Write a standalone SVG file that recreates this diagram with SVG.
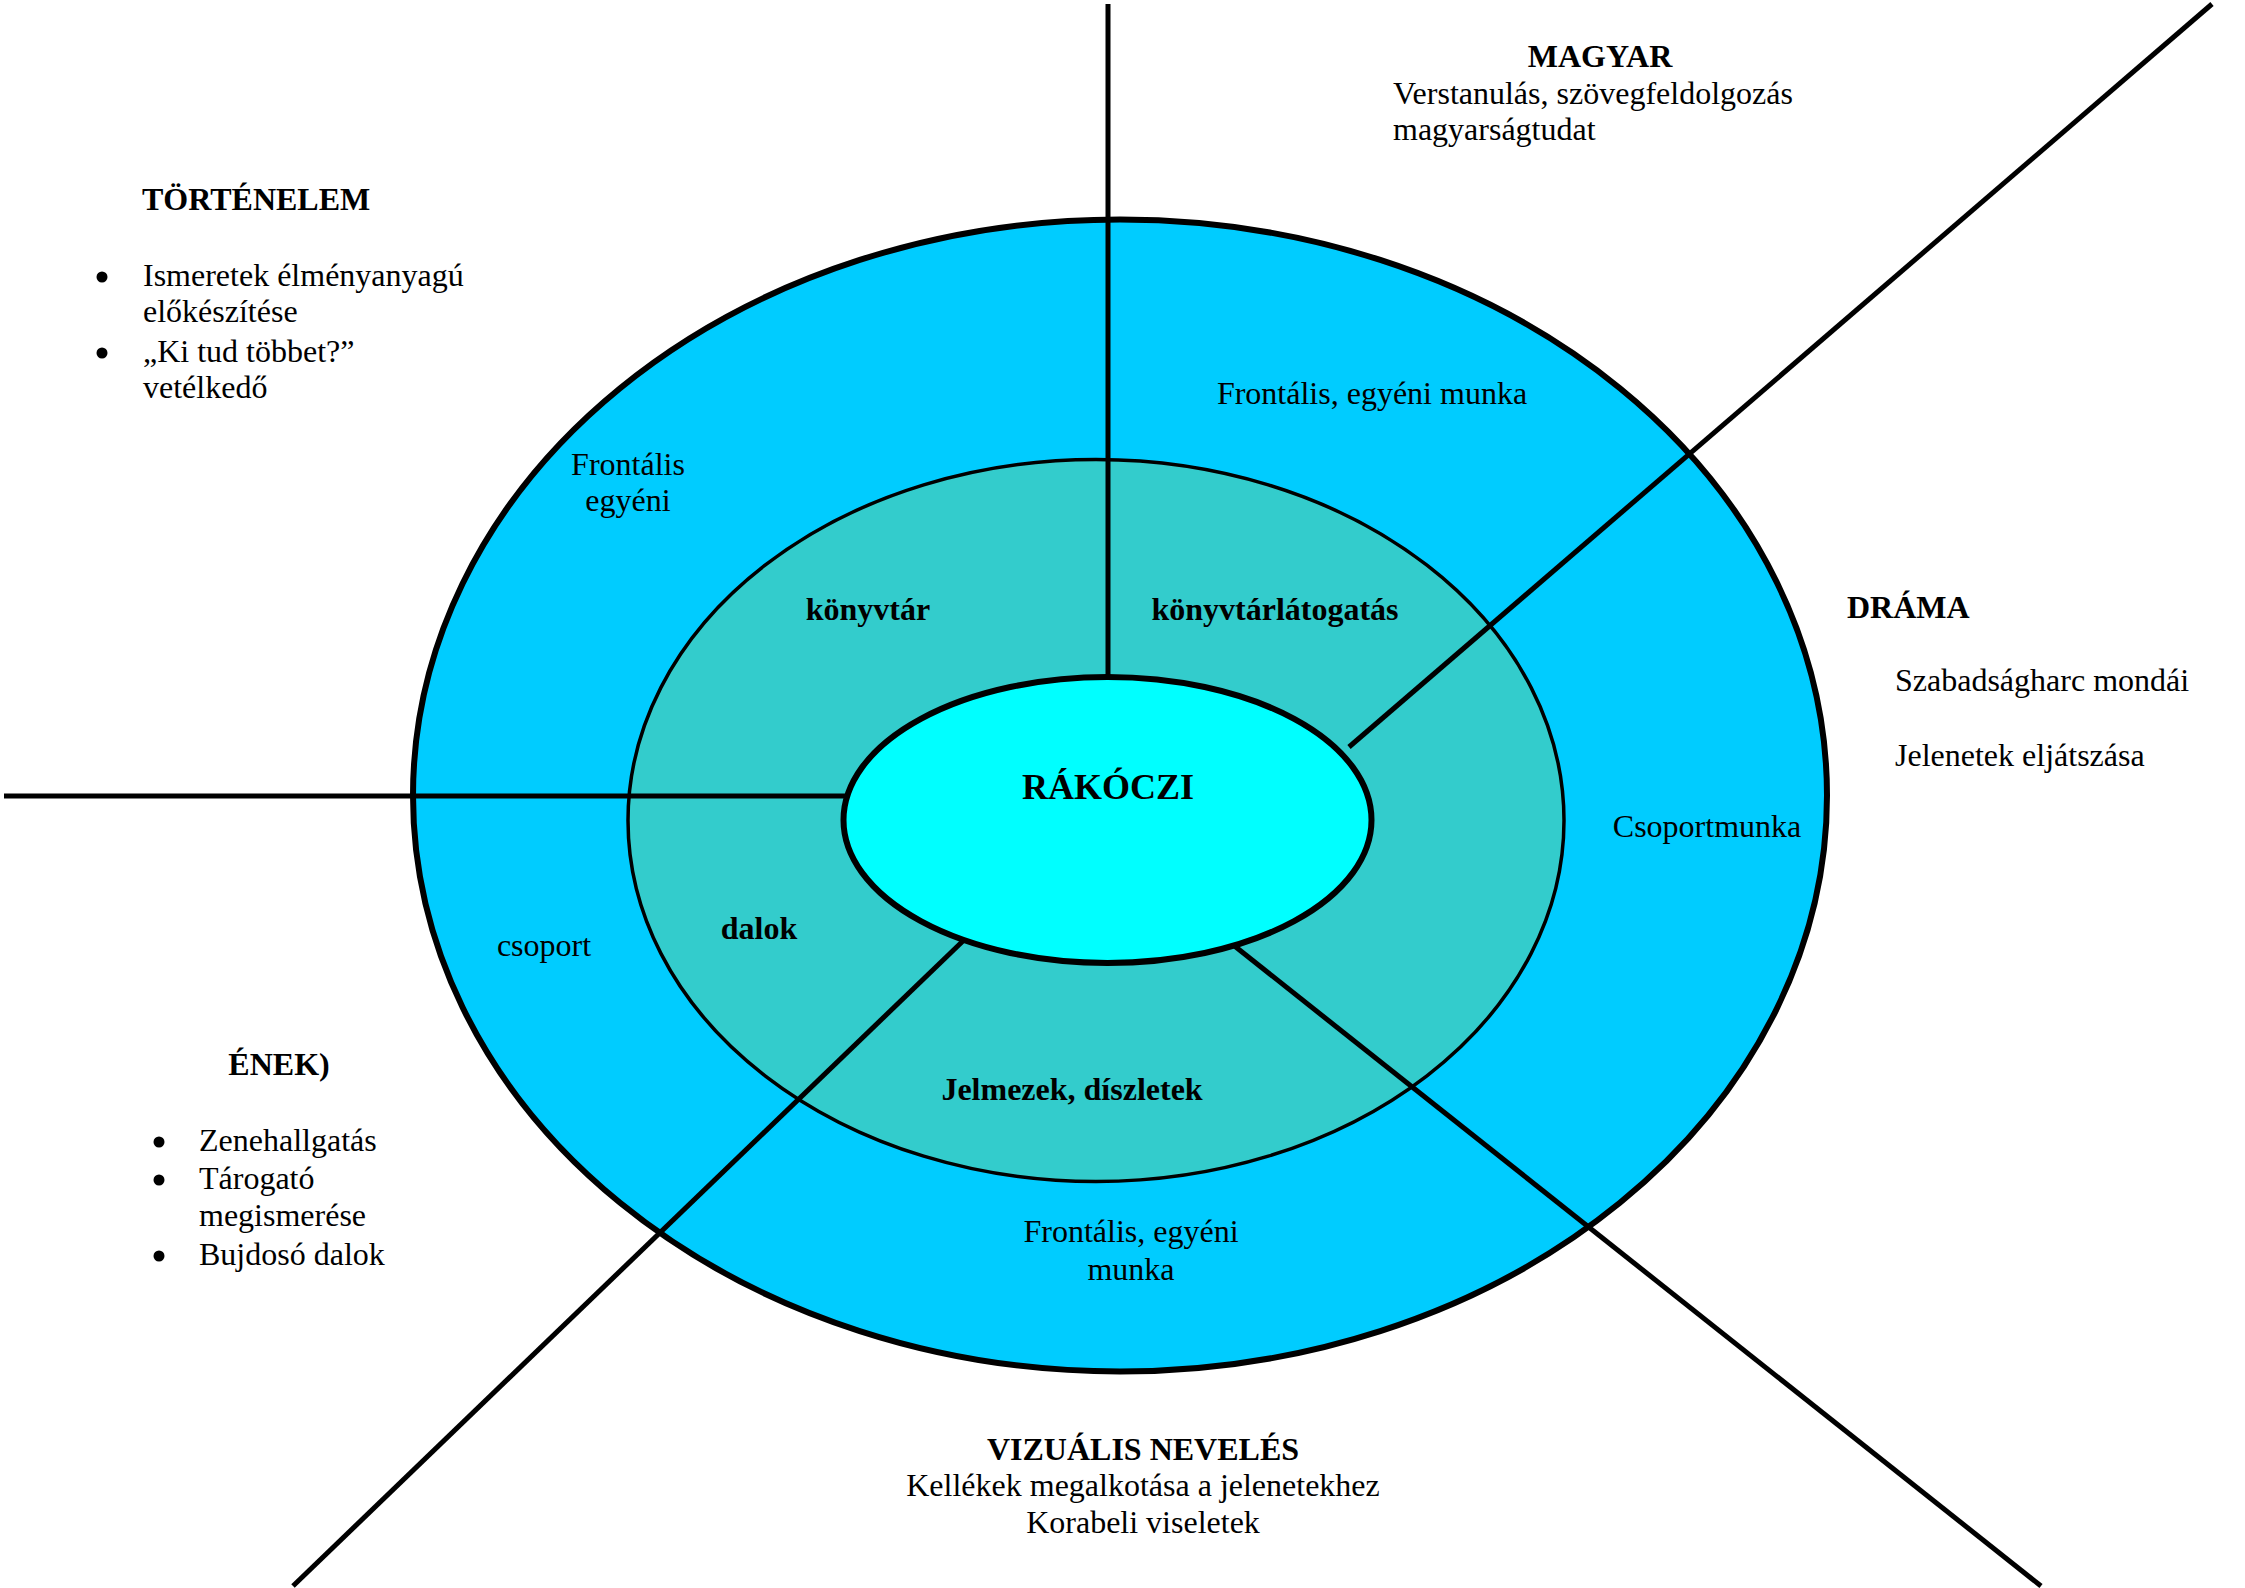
<svg xmlns="http://www.w3.org/2000/svg" width="2245" height="1588" viewBox="0 0 2245 1588">
<style>
text{font-family:"Liberation Serif","Times New Roman",serif;font-size:32px;fill:#000}
.b{font-weight:bold}
.c{text-anchor:middle}
.line{stroke:#000;stroke-width:5;fill:none}
.bullet{fill:#000}
</style>
<rect width="2245" height="1588" fill="#fff"/>
<g id="outer-ring">
<ellipse cx="1120" cy="795.5" rx="707" ry="576" fill="#00CCFF" stroke="#000" stroke-width="6"/>
</g>
<g id="middle-ring">
<ellipse cx="1096" cy="820.5" rx="468" ry="361" fill="#33CCCC" stroke="#000" stroke-width="3.5"/>
</g>
<g id="connectors">
<line class="line" x1="1108" y1="4" x2="1108" y2="680"/>
<line class="line" x1="4" y1="796" x2="848" y2="796"/>
<line class="line" x1="2212" y1="4" x2="1349" y2="747"/>
<line class="line" x1="293" y1="1586" x2="964" y2="940"/>
<line class="line" x1="1232" y1="944" x2="2041" y2="1586"/>
</g>
<g id="center">
<ellipse cx="1107.5" cy="820" rx="264" ry="143" fill="#00FFFF" stroke="#000" stroke-width="6"/>
<text class="b c" x="1108" y="799" style="font-size:36px">RÁKÓCZI</text>
</g>
<g id="tortenelem">
<text class="b" x="142" y="210">TÖRTÉNELEM</text>
<circle class="bullet" cx="102" cy="277" r="5.5"/>
<text x="143" y="286">Ismeretek élményanyagú</text>
<text x="143" y="322">előkészítése</text>
<circle class="bullet" cx="102" cy="353" r="5.5"/>
<text x="143" y="362">„Ki tud többet?”</text>
<text x="143" y="398">vetélkedő</text>
</g>
<g id="magyar">
<text class="b c" x="1600" y="67">MAGYAR</text>
<text x="1393" y="104">Verstanulás, szövegfeldolgozás</text>
<text x="1393" y="140">magyarságtudat</text>
</g>
<g id="drama">
<text class="b" x="1847" y="618">DRÁMA</text>
<text x="1895" y="691">Szabadságharc mondái</text>
<text x="1895" y="766">Jelenetek eljátszása</text>
</g>
<g id="enek">
<text class="b c" x="279" y="1075">ÉNEK)</text>
<circle class="bullet" cx="159" cy="1142" r="5.5"/>
<text x="199" y="1151">Zenehallgatás</text>
<circle class="bullet" cx="159" cy="1180" r="5.5"/>
<text x="199" y="1189">Tárogató</text>
<text x="199" y="1226">megismerése</text>
<circle class="bullet" cx="159" cy="1256" r="5.5"/>
<text x="199" y="1265">Bujdosó dalok</text>
</g>
<g id="vizualis">
<text class="b c" x="1143" y="1460">VIZUÁLIS NEVELÉS</text>
<text class="c" x="1143" y="1496">Kellékek megalkotása a jelenetekhez</text>
<text class="c" x="1143" y="1533">Korabeli viseletek</text>
</g>
<g id="outer-labels">
<text class="c" x="628" y="475">Frontális</text>
<text class="c" x="628" y="511">egyéni</text>
<text class="c" x="1372" y="404">Frontális, egyéni munka</text>
<text class="c" x="1707" y="837">Csoportmunka</text>
<text class="c" x="544" y="956">csoport</text>
<text class="c" x="1131" y="1242">Frontális, egyéni</text>
<text class="c" x="1131" y="1280">munka</text>
</g>
<g id="middle-labels">
<text class="b c" x="868" y="620">könyvtár</text>
<text class="b c" x="1275" y="620">könyvtárlátogatás</text>
<text class="b c" x="759" y="939">dalok</text>
<text class="b c" x="1072" y="1100">Jelmezek, díszletek</text>
</g>
</svg>
